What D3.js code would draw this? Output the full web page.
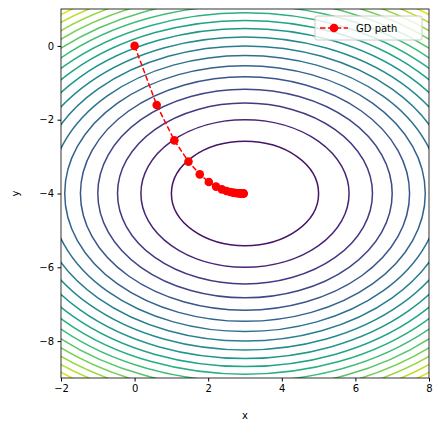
<!DOCTYPE html>
<html><head><script src="https://cdn.jsdelivr.net/npm/d3@7"></script>
<style>body{margin:0;background:#fff}text{font-family:"DejaVu Sans",sans-serif}</style></head>
<body><svg id="c" width="443" height="432"></svg>
<script>
const levels=[4,8,12,16,20,24,28,32,36,40,44,48,52,56,60,64,68,72];
const center=[3,-4];
const pathX=[0,0.6,1.08,1.464,1.7712,2.01696,2.21357,2.37085,2.49668,2.59735,2.67788,2.7423,2.79384,2.83507,2.86806,2.89445,2.91556,2.93245,2.94596,2.95677,2.96541];
const pathY=[0,-1.6,-2.56,-3.136,-3.4816,-3.68896,-3.81338,-3.88803,-3.93282,-3.95969,-3.97581,-3.98549,-3.99129,-3.99478,-3.99687,-3.99812,-3.99887,-3.99932,-3.99959,-3.99976,-3.99985];
const xTicks=[-2,0,2,4,6,8], yTicks=[0,-2,-4,-6,-8];
const svg=d3.select("#c");
const L=61,R=429,T=9,B=378;
const x=d3.scaleLinear([-2,8],[L,R]), y=d3.scaleLinear([-9,1],[B,T]);
svg.append("clipPath").attr("id","cp").append("rect").attr("x",L).attr("y",T).attr("width",R-L).attr("height",B-T);
const g=svg.append("g").attr("clip-path","url(#cp)");
const col=l=>d3.interpolateViridis(l/76);
g.selectAll("ellipse").data(levels).join("ellipse")
 .attr("cx",x(center[0])).attr("cy",y(center[1]))
 .attr("rx",l=>x(center[0]+Math.sqrt(l))-x(center[0]))
 .attr("ry",l=>y(center[1])-y(center[1]+Math.sqrt(l/2)))
 .attr("fill","none").attr("stroke",col).attr("stroke-width",1.5);
const pts=pathX.map((v,i)=>[v,pathY[i]]);
g.append("path").attr("d",d3.line(d=>x(d[0]),d=>y(d[1]))(pts)).attr("fill","none").attr("stroke","red").attr("stroke-width",1.5).attr("stroke-dasharray","5.5,2.4");
g.selectAll("circle").data(pts).join("circle").attr("cx",d=>x(d[0])).attr("cy",d=>y(d[1])).attr("r",4.3).attr("fill","red");
const ax=svg.append("g").attr("transform",`translate(0,${B})`).call(d3.axisBottom(x).tickValues(xTicks).tickSize(3.5).tickPadding(3.5));
const ay=svg.append("g").attr("transform",`translate(${L},0)`).call(d3.axisLeft(y).tickValues(yTicks).tickFormat(d=>d<0?"−"+(-d):d).tickSize(3.5).tickPadding(3.5));
[ax,ay].forEach(a=>{a.select(".domain").remove();a.selectAll("text").attr("font-size",10).attr("fill","#000");a.selectAll("line").attr("stroke","#000");});
ax.selectAll("text").text(d=>d<0?"−"+(-d):d);
svg.append("rect").attr("x",L).attr("y",T).attr("width",R-L).attr("height",B-T).attr("fill","none").attr("stroke","#000").attr("stroke-width",0.8);
svg.append("text").attr("x",(L+R)/2).attr("y",419).attr("text-anchor","middle").attr("font-size",10).text("x");
svg.append("text").attr("transform",`translate(19,${(T+B)/2}) rotate(-90)`).attr("text-anchor","middle").attr("font-size",10).text("y");
const lg=svg.append("g");
lg.append("rect").attr("x",315).attr("y",16).attr("width",107).attr("height",24).attr("rx",2).attr("fill","#fff").attr("fill-opacity",0.8).attr("stroke","#ccc");
lg.append("line").attr("x1",320).attr("x2",348).attr("y1",28).attr("y2",28).attr("stroke","red").attr("stroke-width",1.5).attr("stroke-dasharray","5.5,2.4");
lg.append("circle").attr("cx",334).attr("cy",28).attr("r",4.3).attr("fill","red");
lg.append("text").attr("x",356).attr("y",32).attr("font-size",10).text("GD path");
</script></body></html>
